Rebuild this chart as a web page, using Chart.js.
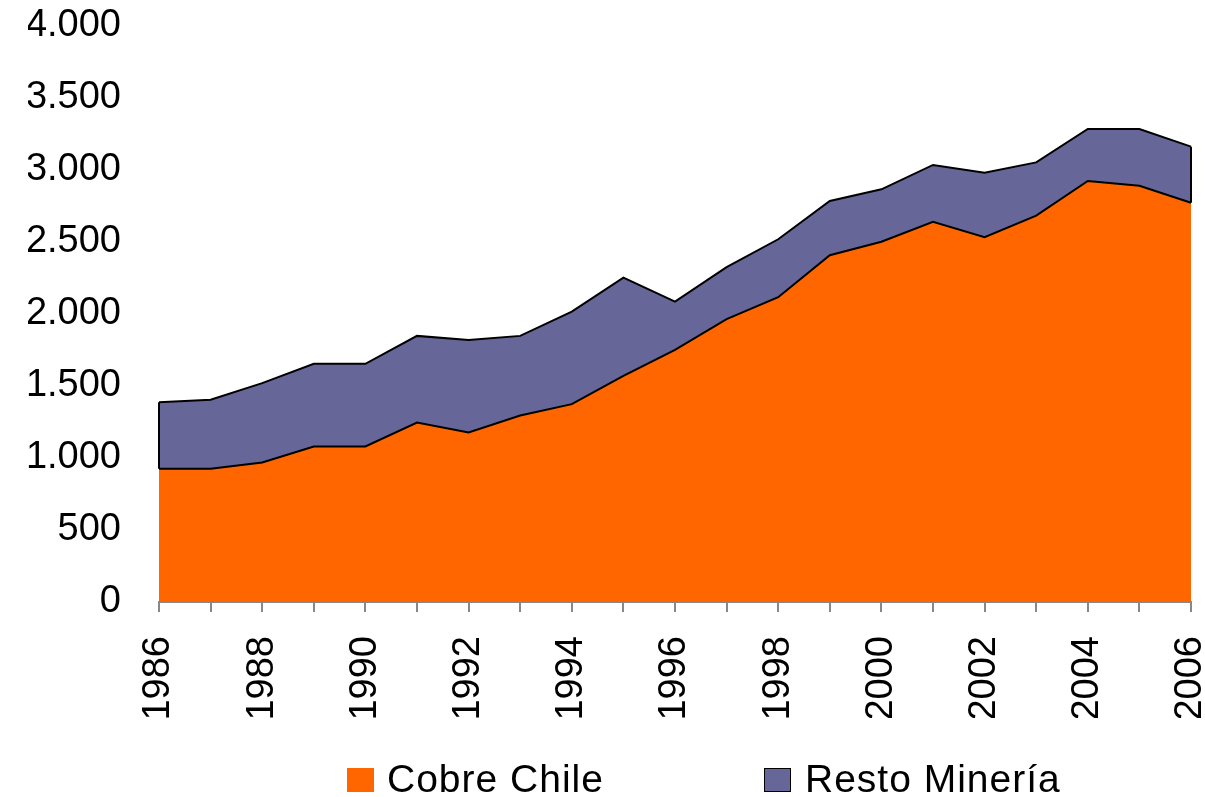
<!DOCTYPE html>
<html>
<head>
<meta charset="utf-8">
<script src="https://cdn.jsdelivr.net/npm/chart.js@4/dist/chart.umd.min.js"></script>
<style>
  html, body { margin: 0; padding: 0; background: #fff; }
  #wrap { position: relative; width: 1205px; height: 797px; }
  #c { position: absolute; left: 0; top: 0; }
  .lg { position: absolute; font-family: "Liberation Sans", Arial, sans-serif; font-size: 39px; line-height: 38px; letter-spacing: 1px; color: #000; white-space: nowrap; }
  .box { position: absolute; width: 27px; height: 24px; box-sizing: border-box; }
</style>
</head>
<body>
<div id="wrap">
  <canvas id="c" width="1205" height="797"></canvas>
  <div class="box" style="left:347px; top:768px; background:#FF6600;"></div>
  <div class="lg" style="left:387px; top:760px;">Cobre Chile</div>
  <div class="box" style="left:764px; top:768px; background:#666699; border:1.5px solid #000;"></div>
  <div class="lg" style="left:805px; top:760px;">Resto Minería</div>
</div>
<script>
const years = ['1986','1987','1988','1989','1990','1991','1992','1993','1994','1995','1996',
               '1997','1998','1999','2000','2001','2002','2003','2004','2005','2006'];
const cobreChile = [925, 925, 969, 1080, 1080, 1246, 1177, 1295, 1374, 1570, 1751,
                    1964, 2117, 2408, 2502, 2641, 2533, 2683, 2924, 2891, 2773];
const restoMineria = [463, 479, 551, 574, 574, 602, 643, 553, 643, 683, 335,
                      361, 402, 377, 364, 394, 448, 370, 361, 394, 389];
const seriesNames = ['Cobre Chile', 'Resto Minería'];
const yTicks = [0, 500, 1000, 1500, 2000, 2500, 3000, 3500, 4000];

function fmt(v) {
  if (v >= 1000) return Math.floor(v / 1000) + '.' + String(v % 1000).padStart(3, '0');
  return String(v);
}

// Draw the left and right vertical edges of the top (Resto) band
const edgePlugin = {
  id: 'edges',
  afterDatasetsDraw(chart) {
    const ctx = chart.ctx;
    const xs = chart.scales.x, ys = chart.scales.y;
    const last = years.length - 1;
    ctx.save();
    ctx.strokeStyle = '#000';
    ctx.lineWidth = 2;
    [0, last].forEach(i => {
      const x = xs.getPixelForValue(i);
      const y0 = ys.getPixelForValue(cobreChile[i]);
      const y1 = ys.getPixelForValue(cobreChile[i] + restoMineria[i]);
      ctx.beginPath();
      ctx.moveTo(x, y0);
      ctx.lineTo(x, y1);
      ctx.stroke();
    });
    ctx.restore();
  }
};

function zeroPad(scale) {
  scale.paddingLeft = 0; scale.paddingRight = 0;
  scale.paddingTop = 0; scale.paddingBottom = 0;
}

new Chart(document.getElementById('c'), {
  type: 'line',
  data: {
    labels: years,
    datasets: [
      {
        label: seriesNames[0],
        data: cobreChile,
        backgroundColor: '#FF6600',
        borderColor: '#000',
        borderWidth: 2,
        fill: 'origin',
        pointRadius: 0,
        tension: 0
      },
      {
        label: seriesNames[1],
        data: restoMineria,
        backgroundColor: '#666699',
        borderColor: '#000',
        borderWidth: 2,
        fill: '-1',
        pointRadius: 0,
        tension: 0
      }
    ]
  },
  options: {
    responsive: false,
    animation: false,
    layout: { autoPadding: false, padding: { left: 28, right: 14, top: 26, bottom: 79 } },
    plugins: { legend: { display: false }, tooltip: { enabled: false } },
    scales: {
      x: {
        offset: false,
        grid: { display: true, drawOnChartArea: false, drawTicks: true, tickLength: 10, color: '#888', lineWidth: 2 },
        border: { display: true, color: '#888', width: 2 },
        afterFit(scale) { scale.height = 116; zeroPad(scale); },
        ticks: {
          autoSkip: false,
          maxRotation: 90,
          minRotation: 90,
          padding: 24,
          color: '#000',
          font: { family: '"Liberation Sans", Arial, sans-serif', size: 38 },
          callback: function(v, i) { return (parseInt(years[i]) % 2 === 0) ? years[i] : ''; }
        }
      },
      y: {
        stacked: true,
        min: 0,
        max: 4000,
        afterBuildTicks(scale) { scale.ticks = yTicks.map(v => ({ value: v })); },
        afterFit(scale) { scale.width = 131; zeroPad(scale); },
        grid: { display: false, drawTicks: false },
        border: { display: false },
        ticks: {
          padding: 38,
          color: '#000',
          font: { family: '"Liberation Sans", Arial, sans-serif', size: 38 },
          callback: v => fmt(v)
        }
      }
    }
  },
  plugins: [edgePlugin]
});
</script>
</body>
</html>
